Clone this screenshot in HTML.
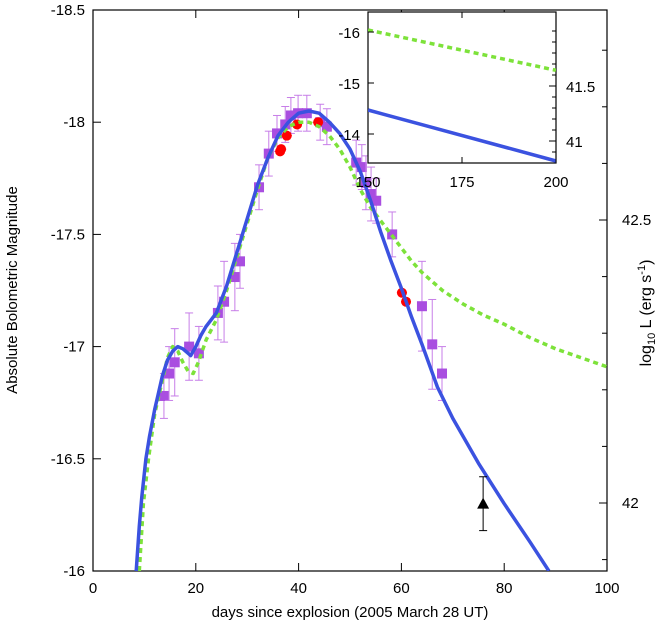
<!DOCTYPE html>
<html><head><meta charset="utf-8"><style>
body{margin:0;background:#fff}
svg text{font-family:"Liberation Sans",sans-serif;font-size:15px;fill:#000}
</style></head><body>
<svg id="c" width="657" height="625" xmlns="http://www.w3.org/2000/svg"></svg>
<script>
const purpleDays=[13.8,14.8,15.9,18.7,20.6,24.3,25.5,27.6,28.6,32.3,34.2,35.8,37.4,38.5,39.9,41.6,44.2,45.5,51.2,52.3,53.1,54.1,55.1,58.2,64.0,66.0,67.9];
const purpleMags=[-16.78,-16.88,-16.93,-17.0,-16.97,-17.15,-17.2,-17.31,-17.38,-17.71,-17.86,-17.95,-17.99,-18.03,-18.04,-18.04,-18.0,-17.98,-17.82,-17.8,-17.73,-17.68,-17.65,-17.5,-17.18,-17.01,-16.88];
const purpleErr=[0.1,0.12,0.15,0.15,0.12,0.12,0.18,0.15,0.12,0.1,0.1,0.08,0.08,0.08,0.08,0.08,0.08,0.08,0.1,0.1,0.12,0.12,0.1,0.1,0.2,0.2,0.12];
const redDays=[36.4,36.6,37.7,39.7,43.8,60.1,60.9];
const redMags=[-17.87,-17.88,-17.94,-17.99,-18.0,-17.24,-17.2];
const triDay=[75.9], triMag=[-16.3], triErr=[0.12];
const blueDays=[8.4,9,9.5,10.3,11,12,12.6,13.5,14.5,15.5,16.5,17.5,19,20,21,22,24,26,28,30,32,34,36,38,40,42,44,46,48,50,52,54,56,58,60,62,64,67,70,75,80,85,88.7];
const blueMags=[-16.0,-16.2,-16.33,-16.5,-16.6,-16.72,-16.78,-16.87,-16.94,-16.98,-17.0,-16.99,-16.96,-17.0,-17.05,-17.09,-17.15,-17.27,-17.42,-17.57,-17.72,-17.84,-17.94,-18.0,-18.04,-18.05,-18.04,-18.0,-17.95,-17.88,-17.78,-17.65,-17.51,-17.38,-17.26,-17.13,-17.01,-16.82,-16.68,-16.48,-16.3,-16.13,-16.0];
const greenDays=[9,9.8,10.8,12,13,14.5,15.5,16.5,17.5,18.5,19.5,20.5,22,24,26,28,30,32,34,36,38,40,42,44,46,48,50,52,54,56,58,60,62,64,68,72,76,80,85,90,95,100];
const greenMags=[-16.0,-16.3,-16.5,-16.7,-16.8,-16.95,-17.0,-16.98,-16.93,-16.89,-16.88,-16.93,-17.03,-17.12,-17.25,-17.4,-17.55,-17.7,-17.84,-17.93,-17.98,-18.0,-18.0,-17.98,-17.94,-17.88,-17.8,-17.7,-17.62,-17.56,-17.5,-17.44,-17.38,-17.33,-17.25,-17.19,-17.14,-17.1,-17.04,-16.99,-16.95,-16.91];
const xTicks=[0,20,40,60,80,100];
const yTicks=[-18.5,-18,-17.5,-17,-16.5,-16];
const rTicks=[{v:42.5,y:220},{v:42,y:503}];
const insetDays=[150,200];
const insetBlue=[-14.47,-13.47];
const insetGreen=[-16.04,-15.25];
const insetXTicks=[150,175,200];
const insetYTicks=[-16,-15,-14];

const NS="http://www.w3.org/2000/svg", svg=document.getElementById('c');
const X=d=>93+d*5.14, Y=m=>10+(m+18.5)*224.4;
function el(t,a,p){const e=document.createElementNS(NS,t);for(const k in a)e.setAttribute(k,a[k]);(p||svg).appendChild(e);return e;}
function txt(s,x,y,anchor,nm){const t=el('text',{x:x,y:y,'text-anchor':anchor||'middle'});t.textContent=s;

return t;}

const fr=el('rect',{x:93,y:10,width:514,height:561,fill:'none',stroke:'#000','stroke-width':1.2});


xTicks.forEach(v=>{el('line',{x1:X(v),x2:X(v),y1:571,y2:563,stroke:'#000'});el('line',{x1:X(v),x2:X(v),y1:10,y2:18,stroke:'#000'});
 txt(String(v),X(v),593,'middle','x-tick-label');});
yTicks.forEach(v=>{el('line',{x1:93,x2:101,y1:Y(v),y2:Y(v),stroke:'#000'});
 txt(String(v),85,Y(v)+5,'end','y-tick-label');});
const step=(503-220)/5;
for(let y=220-step*3;y<571;y+=step){ if(y<12)continue; el('line',{x1:607,x2:602,y1:y,y2:y,stroke:'#000'});}
rTicks.forEach(t=>{el('line',{x1:607,x2:599,y1:t.y,y2:t.y,stroke:'#000'});txt(String(t.v),622,t.y+5,'start','right-tick-label');});
txt('days since explosion (2005 March 28 UT)',350,617,'middle','x-axis-title');
const yt=txt('Absolute Bolometric Magnitude',0,0,'middle','y-axis-title');yt.setAttribute('transform','translate(17,290) rotate(-90)');
const rt=el('text',{transform:'translate(651,313) rotate(-90)','text-anchor':'middle','font-size':'16'});


rt.innerHTML='<tspan font-size="16">log</tspan><tspan font-size="11" dy="4">10</tspan><tspan font-size="16" dy="-4"> L (erg s</tspan><tspan font-size="11" dy="-6">-1</tspan><tspan font-size="16" dy="6">)</tspan>';

const cp=el('clipPath',{id:'cl'});el('rect',{x:93,y:10,width:514,height:561},cp);
const g=el('g',{'clip-path':'url(#cl)'});
purpleDays.forEach((d,i)=>{const x=X(d),y1=Y(purpleMags[i]-purpleErr[i]),y2=Y(purpleMags[i]+purpleErr[i]);
 el('line',{x1:x,x2:x,y1:y1,y2:y2,stroke:'#c77ee8','stroke-width':1},g);
 el('line',{x1:x-4,x2:x+4,y1:y1,y2:y1,stroke:'#c77ee8'},g);el('line',{x1:x-4,x2:x+4,y1:y2,y2:y2,stroke:'#c77ee8'},g);
 const r=el('rect',{x:x-5,y:Y(purpleMags[i])-5,width:10,height:10,fill:'#a94ee0'},g);
 
 });
redDays.forEach((d,i)=>{el('line',{x1:X(d)-5,x2:X(d)+5,y1:Y(redMags[i]),y2:Y(redMags[i]),stroke:'#f00'},g);
 const c=el('circle',{cx:X(d),cy:Y(redMags[i]),r:5,fill:'#f00'},g);
 
 });
function path(ds,ms,fx,fy){return ds.map((d,i)=>(i?'L':'M')+fx(d).toFixed(1)+','+fy(ms[i]).toFixed(1)).join('');}
const gl=el('path',{d:path(greenDays,greenMags,X,Y),fill:'none',stroke:'#7de23a','stroke-width':3.5,'stroke-dasharray':'5,4','stroke-linejoin':'round'},g);


const bl=el('path',{d:path(blueDays,blueMags,X,Y),fill:'none',stroke:'#3b52e0','stroke-width':3.5,'stroke-linejoin':'round'},g);


triDay.forEach((d,i)=>{const x=X(d),y=Y(triMag[i]),y1=Y(triMag[i]-triErr[i]),y2=Y(triMag[i]+triErr[i]);
 el('line',{x1:x,x2:x,y1:y1,y2:y2,stroke:'#000'});el('line',{x1:x-4,x2:x+4,y1:y1,y2:y1,stroke:'#000'});el('line',{x1:x-4,x2:x+4,y1:y2,y2:y2,stroke:'#000'});
 const t=el('path',{d:`M${x-6},${y+5}L${x+6},${y+5}L${x},${y-6}Z`,fill:'#000'});
 
 });

const IX=d=>368+(d-150)*188/50, IY=m=>83+(m+15)*51;
const ib=el('rect',{x:368,y:12,width:188,height:151,fill:'#fff',stroke:'#000','stroke-width':1.2});


const icp=el('clipPath',{id:'icl'});el('rect',{x:368,y:12,width:188,height:151},icp);
const ig=el('g',{'clip-path':'url(#icl)'});
insetXTicks.forEach(v=>{el('line',{x1:IX(v),x2:IX(v),y1:163,y2:157,stroke:'#000'});el('line',{x1:IX(v),x2:IX(v),y1:12,y2:18,stroke:'#000'});const t=txt(String(v),IX(v),187,'middle','inset-x-tick-label');t.setAttribute('font-size','17');});
insetYTicks.forEach(v=>{el('line',{x1:368,x2:374,y1:IY(v),y2:IY(v),stroke:'#000'});const t=txt(String(v),360,IY(v)+6,'end','inset-y-tick-label');t.setAttribute('font-size','17');});
for(let y=141-110;y<163;y+=11){if(y>12){el('line',{x1:556,x2:552,y1:y,y2:y,stroke:'#000'});}}
[{v:41.5,y:86},{v:41,y:141}].forEach(t=>{el('line',{x1:556,x2:549,y1:t.y,y2:t.y,stroke:'#000'});const s=txt(String(t.v),566,t.y+6,'start','inset-right-tick-label');s.setAttribute('font-size','17');});
const igl=el('path',{d:path(insetDays,insetGreen,IX,IY),fill:'none',stroke:'#7de23a','stroke-width':3.5,'stroke-dasharray':'5,4'},ig);


const ibl=el('path',{d:path(insetDays,insetBlue,IX,IY),fill:'none',stroke:'#3b52e0','stroke-width':3.5},ig);


</script>
</body></html>
